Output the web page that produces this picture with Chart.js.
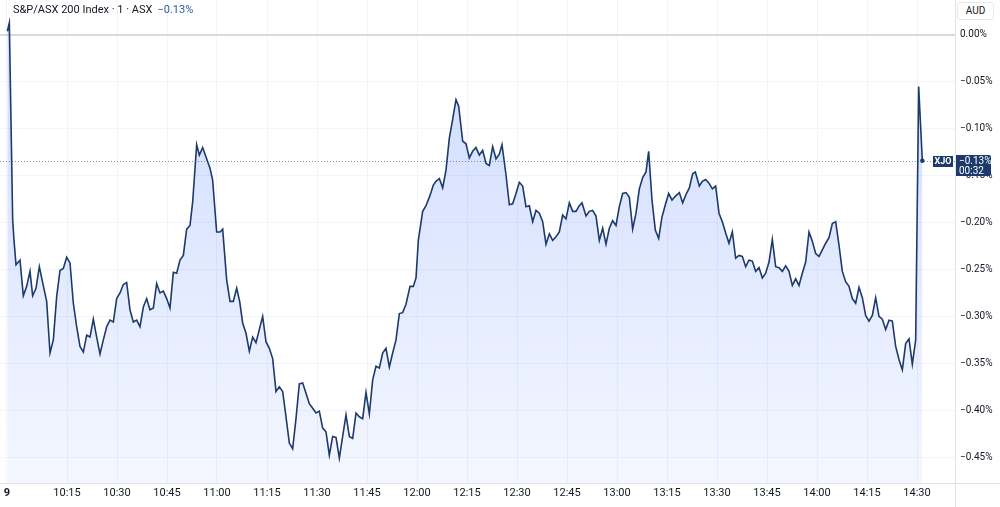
<!DOCTYPE html>
<html>
<head>
<meta charset="utf-8">
<script src="https://cdn.jsdelivr.net/npm/chart.js@4.4.1/dist/chart.umd.min.js"></script>
<style>
html, body { margin: 0; padding: 0; background: #fff; }
#wrap { position: relative; width: 1000px; height: 507px; font-family: Roboto, "Noto Sans", sans-serif; }
#title { position: absolute; left: 13px; top: 3px; font-size: 11px; color: #131722; white-space: nowrap; }
#title .chg { color: #2c5a9e; margin-left: 5px; }
#aud { position: absolute; left: 957px; top: 2px; width: 37px; height: 18px; box-sizing: border-box;
  border: 1px solid #e6e8ee; border-radius: 3px; background: #fff; font-size: 10px; color: #131722;
  text-align: center; line-height: 16px; }
</style>
</head>
<body>
<div id="wrap">
  <canvas id="chart"></canvas>
  <div id="title">S&amp;P/ASX 200 Index · 1 · ASX<span class="chg">−0.13%</span></div>
  <div id="aud">AUD</div>
</div>
<script>
// minutes after 10:00, one point per 1-minute bar
const minutes = [
  -2.9, -2.3, -1.3, -0.9, -0.3, 0.4, 0.9, 1.9, 2.9, 3.9,
  4.7, 5.7, 6.7, 7.7, 8.9, 9.9, 10.9, 11.9, 12.9, 13.9,
  14.9, 15.9, 16.9, 17.9, 18.9, 19.9, 20.9, 21.9, 22.9, 23.9,
  24.9, 25.9, 26.9, 27.9, 28.9, 29.9, 30.9, 31.9, 32.9, 33.9,
  34.9, 35.9, 36.9, 37.9, 38.9, 39.9, 40.9, 41.9, 42.9, 43.9,
  44.9, 45.9, 46.9, 47.9, 48.9, 49.9, 50.9, 51.9, 52.7, 53.9,
  54.7, 55.7, 56.7, 57.9, 58.7, 59.9, 60.9, 61.7, 62.9, 63.9,
  64.9, 65.9, 66.8, 67.7, 68.7, 69.7, 70.7, 71.7, 73.7, 74.7,
  75.7, 76.7, 77.7, 78.7, 79.7, 80.7, 81.7, 82.7, 83.7, 84.7,
  85.7, 86.7, 87.7, 88.7, 89.7, 90.7, 91.7, 92.7, 93.7, 94.7,
  95.7, 96.7, 97.7, 98.7, 99.7, 100.7, 101.7, 102.7, 103.7, 104.7,
  105.7, 106.7, 107.7, 108.7, 109.7, 110.7, 111.7, 112.7, 113.7, 114.7,
  115.7, 116.7, 117.9, 118.9, 119.7, 120.4, 121.7, 122.7, 123.9, 124.9,
  125.7, 126.7, 127.7, 128.7, 129.7, 130.7, 131.7, 132.5, 133.7, 134.7,
  135.7, 136.7, 137.7, 138.7, 139.7, 140.7, 141.7, 142.7, 143.7, 144.7,
  145.5, 146.7, 147.7, 148.7, 149.7, 150.7, 151.7, 152.7, 153.7, 154.7,
  155.7, 156.7, 157.7, 158.7, 159.7, 160.7, 161.7, 162.7, 163.7, 164.7,
  165.7, 166.7, 167.7, 168.7, 169.5, 170.7, 171.7, 172.7, 173.7, 174.7,
  175.7, 176.7, 177.7, 178.7, 179.7, 180.7, 181.7, 182.7, 183.7, 184.7,
  185.7, 186.7, 187.7, 188.7, 189.5, 190.5, 191.5, 192.5, 193.5, 194.5,
  195.5, 196.5, 197.5, 198.7, 199.7, 200.7, 201.7, 202.7, 203.5, 204.7,
  205.6, 206.6, 207.6, 208.6, 209.6, 210.6, 211.6, 212.6, 213.6, 214.6,
  215.6, 216.6, 217.6, 218.6, 219.6, 220.6, 221.6, 222.6, 223.6, 224.6,
  225.6, 226.6, 227.6, 228.6, 229.6, 230.6, 231.6, 232.6, 233.6, 234.6,
  235.6, 236.6, 237.6, 238.6, 239.6, 240.6, 241.6, 242.6, 243.6, 244.6,
  245.6, 246.6, 247.6, 248.6, 249.6, 250.6, 251.6, 252.6, 253.6, 254.6,
  255.6, 256.6, 257.6, 258.6, 259.6, 260.6, 261.6, 262.6, 263.6, 264.6,
  265.6, 266.6, 267.6, 268.6, 269.6, 270.5, 271.6
];

// change vs previous close, in %
const change = [
  0.004, 0.013, -0.197, -0.219, -0.245, -0.242, -0.240, -0.278, -0.268, -0.252,
  -0.278, -0.270, -0.247, -0.264, -0.284, -0.339, -0.325, -0.279, -0.251, -0.249,
  -0.237, -0.243, -0.286, -0.311, -0.332, -0.338, -0.320, -0.322, -0.303, -0.322,
  -0.340, -0.325, -0.311, -0.304, -0.306, -0.281, -0.275, -0.266, -0.264, -0.293,
  -0.306, -0.304, -0.311, -0.290, -0.281, -0.293, -0.291, -0.265, -0.275, -0.273,
  -0.281, -0.291, -0.253, -0.254, -0.240, -0.235, -0.207, -0.203, -0.178, -0.117,
  -0.128, -0.120, -0.130, -0.142, -0.155, -0.210, -0.210, -0.207, -0.261, -0.284,
  -0.284, -0.270, -0.284, -0.307, -0.318, -0.337, -0.322, -0.328, -0.300, -0.327,
  -0.334, -0.345, -0.380, -0.375, -0.380, -0.407, -0.435, -0.441, -0.409, -0.372,
  -0.371, -0.382, -0.393, -0.398, -0.403, -0.401, -0.419, -0.423, -0.448, -0.428,
  -0.429, -0.451, -0.428, -0.405, -0.428, -0.430, -0.403, -0.407, -0.409, -0.381,
  -0.404, -0.368, -0.353, -0.355, -0.339, -0.334, -0.354, -0.339, -0.325, -0.297,
  -0.296, -0.287, -0.268, -0.268, -0.259, -0.219, -0.188, -0.182, -0.171, -0.160,
  -0.156, -0.153, -0.163, -0.144, -0.110, -0.090, -0.069, -0.076, -0.113, -0.116,
  -0.131, -0.124, -0.120, -0.128, -0.123, -0.137, -0.139, -0.119, -0.132, -0.127,
  -0.117, -0.149, -0.181, -0.180, -0.169, -0.157, -0.161, -0.183, -0.182, -0.199,
  -0.187, -0.190, -0.199, -0.223, -0.212, -0.219, -0.215, -0.210, -0.192, -0.196,
  -0.179, -0.188, -0.188, -0.182, -0.179, -0.193, -0.188, -0.187, -0.193, -0.219,
  -0.206, -0.223, -0.206, -0.198, -0.203, -0.183, -0.169, -0.168, -0.173, -0.207,
  -0.190, -0.164, -0.152, -0.146, -0.124, -0.176, -0.208, -0.217, -0.194, -0.181,
  -0.169, -0.176, -0.172, -0.168, -0.179, -0.170, -0.163, -0.148, -0.146, -0.161,
  -0.156, -0.154, -0.158, -0.164, -0.161, -0.190, -0.199, -0.211, -0.222, -0.210,
  -0.238, -0.235, -0.236, -0.247, -0.240, -0.241, -0.252, -0.248, -0.259, -0.254,
  -0.242, -0.218, -0.247, -0.248, -0.252, -0.246, -0.252, -0.267, -0.260, -0.267,
  -0.254, -0.242, -0.210, -0.220, -0.233, -0.236, -0.229, -0.222, -0.216, -0.201,
  -0.199, -0.224, -0.252, -0.263, -0.268, -0.281, -0.286, -0.269, -0.280, -0.299,
  -0.305, -0.299, -0.280, -0.300, -0.303, -0.314, -0.304, -0.305, -0.332, -0.346,
  -0.357, -0.329, -0.324, -0.351, -0.325, -0.055, -0.134
];

const xTickValues = [-3, 15, 30, 45, 60, 75, 90, 105, 120, 135, 150, 165, 180, 195, 210, 225, 240, 255, 270];
const xTickLabels = ['9', '10:15', '10:30', '10:45', '11:00', '11:15', '11:30', '11:45', '12:00', '12:15',
  '12:30', '12:45', '13:00', '13:15', '13:30', '13:45', '14:00', '14:15', '14:30'];
const yTickValues = [0, -0.05, -0.10, -0.15, -0.20, -0.25, -0.30, -0.35, -0.40, -0.45];

const symbol = 'XJO';
const lastLabel = '−0.13%';
const countdown = '00:32';

const navy = '#1c3a6c';

function pct(v) {
  return (v < -1e-9 ? '\u2212' : '') + Math.abs(v).toFixed(2) + '%';
}

const overlay = {
  id: 'overlay',
  beforeDatasetsDraw(chart) {
    const { ctx, chartArea, scales } = chart;
    const y = Math.round(scales.y.getPixelForValue(change[change.length - 1])) + 0.5;
    ctx.save();
    ctx.strokeStyle = 'rgba(28,58,108,0.55)';
    ctx.lineWidth = 1;
    ctx.setLineDash([1, 2]);
    ctx.beginPath();
    ctx.moveTo(chartArea.left, y);
    ctx.lineTo(chartArea.right, y);
    ctx.stroke();
    ctx.restore();
  },
  afterDraw(chart) {
    const { ctx, chartArea, scales, width, height } = chart;
    ctx.save();
    // axis borders
    ctx.strokeStyle = '#e0e3eb';
    ctx.lineWidth = 1;
    ctx.beginPath();
    ctx.moveTo(0, Math.round(chartArea.bottom) + 0.5);
    ctx.lineTo(width, Math.round(chartArea.bottom) + 0.5);
    ctx.moveTo(Math.round(chartArea.right) + 0.5, 0);
    ctx.lineTo(Math.round(chartArea.right) + 0.5, height);
    ctx.stroke();

    const yc = Math.round(scales.y.getPixelForValue(change[change.length - 1]));
    // symbol tag
    ctx.fillStyle = navy;
    ctx.fillRect(933, yc - 5, 20, 11);
    ctx.fillStyle = '#fff';
    ctx.font = 'bold 9px Roboto, sans-serif';
    ctx.textAlign = 'center';
    ctx.textBaseline = 'middle';
    ctx.fillText(symbol, 943, yc + 0.5);
    // price tag
    ctx.fillStyle = navy;
    ctx.beginPath();
    ctx.roundRect(Math.round(chartArea.right) + 1, yc - 6, 35, 21, [0, 2, 2, 0]);
    ctx.fill();
    ctx.fillStyle = '#fff';
    ctx.font = '10px Roboto, sans-serif';
    ctx.textAlign = 'left';
    ctx.fillText(lastLabel, chartArea.right + 4, yc);
    ctx.fillText(countdown, chartArea.right + 4, yc + 10);
    ctx.restore();
  }
};

new Chart(document.getElementById('chart'), {
  type: 'line',
  data: {
    datasets: [{
      data: minutes.map((m, i) => ({ x: m, y: change[i] })),
      borderColor: navy,
      borderWidth: 1.6,
      tension: 0,
      fill: 'start',
      backgroundColor: (c) => {
        const area = c.chart.chartArea;
        if (!area) return 'rgba(41,98,255,0.15)';
        const g = c.chart.ctx.createLinearGradient(0, area.top, 0, area.bottom);
        g.addColorStop(0, 'rgba(41,98,255,0.24)');
        g.addColorStop(1, 'rgba(41,98,255,0.05)');
        return g;
      },
      pointRadius: (c) => c.dataIndex === change.length - 1 ? 2.2 : 0,
      pointBackgroundColor: navy,
      pointBorderWidth: 0
    }]
  },
  options: {
    responsive: true,
    maintainAspectRatio: false,
    animation: false,
    layout: { padding: 0, autoPadding: false },
    plugins: { legend: { display: false }, tooltip: { enabled: false } },
    scales: {
      x: {
        type: 'linear',
        min: -5.1,
        max: 281.4,
        afterBuildTicks: (s) => { s.ticks = xTickValues.map(v => ({ value: v })); },
        afterFit: (s) => { s.height = 24; s.paddingLeft = 0; s.paddingRight = 0; },
        border: { display: false },
        grid: { color: '#f2f4f9', drawTicks: false },
        ticks: {
          autoSkip: false,
          maxRotation: 0,
          minRotation: 0,
          padding: 4,
          color: '#131722',
          font: (c) => ({ family: 'Roboto, sans-serif', size: 11, weight: c.index === 0 ? 'bold' : 'normal' }),
          callback: (v) => xTickLabels[xTickValues.indexOf(v)]
        }
      },
      y: {
        position: 'right',
        min: -0.4776,
        max: 0.0373,
        afterBuildTicks: (s) => { s.ticks = yTickValues.map(v => ({ value: v })); },
        afterFit: (s) => { s.width = 45; s.paddingTop = 0; s.paddingBottom = 0; },
        border: { display: false },
        grid: {
          drawTicks: false,
          color: (c) => Math.abs(c.tick.value) < 1e-9 ? '#d8dae0' : '#f2f4f9',
          lineWidth: (c) => Math.abs(c.tick.value) < 1e-9 ? 2 : 1
        },
        ticks: {
          padding: 5,
          color: '#131722',
          font: { family: 'Roboto, sans-serif', size: 10 },
          callback: (v) => pct(v)
        }
      }
    }
  },
  plugins: [overlay]
});
</script>
</body>
</html>
